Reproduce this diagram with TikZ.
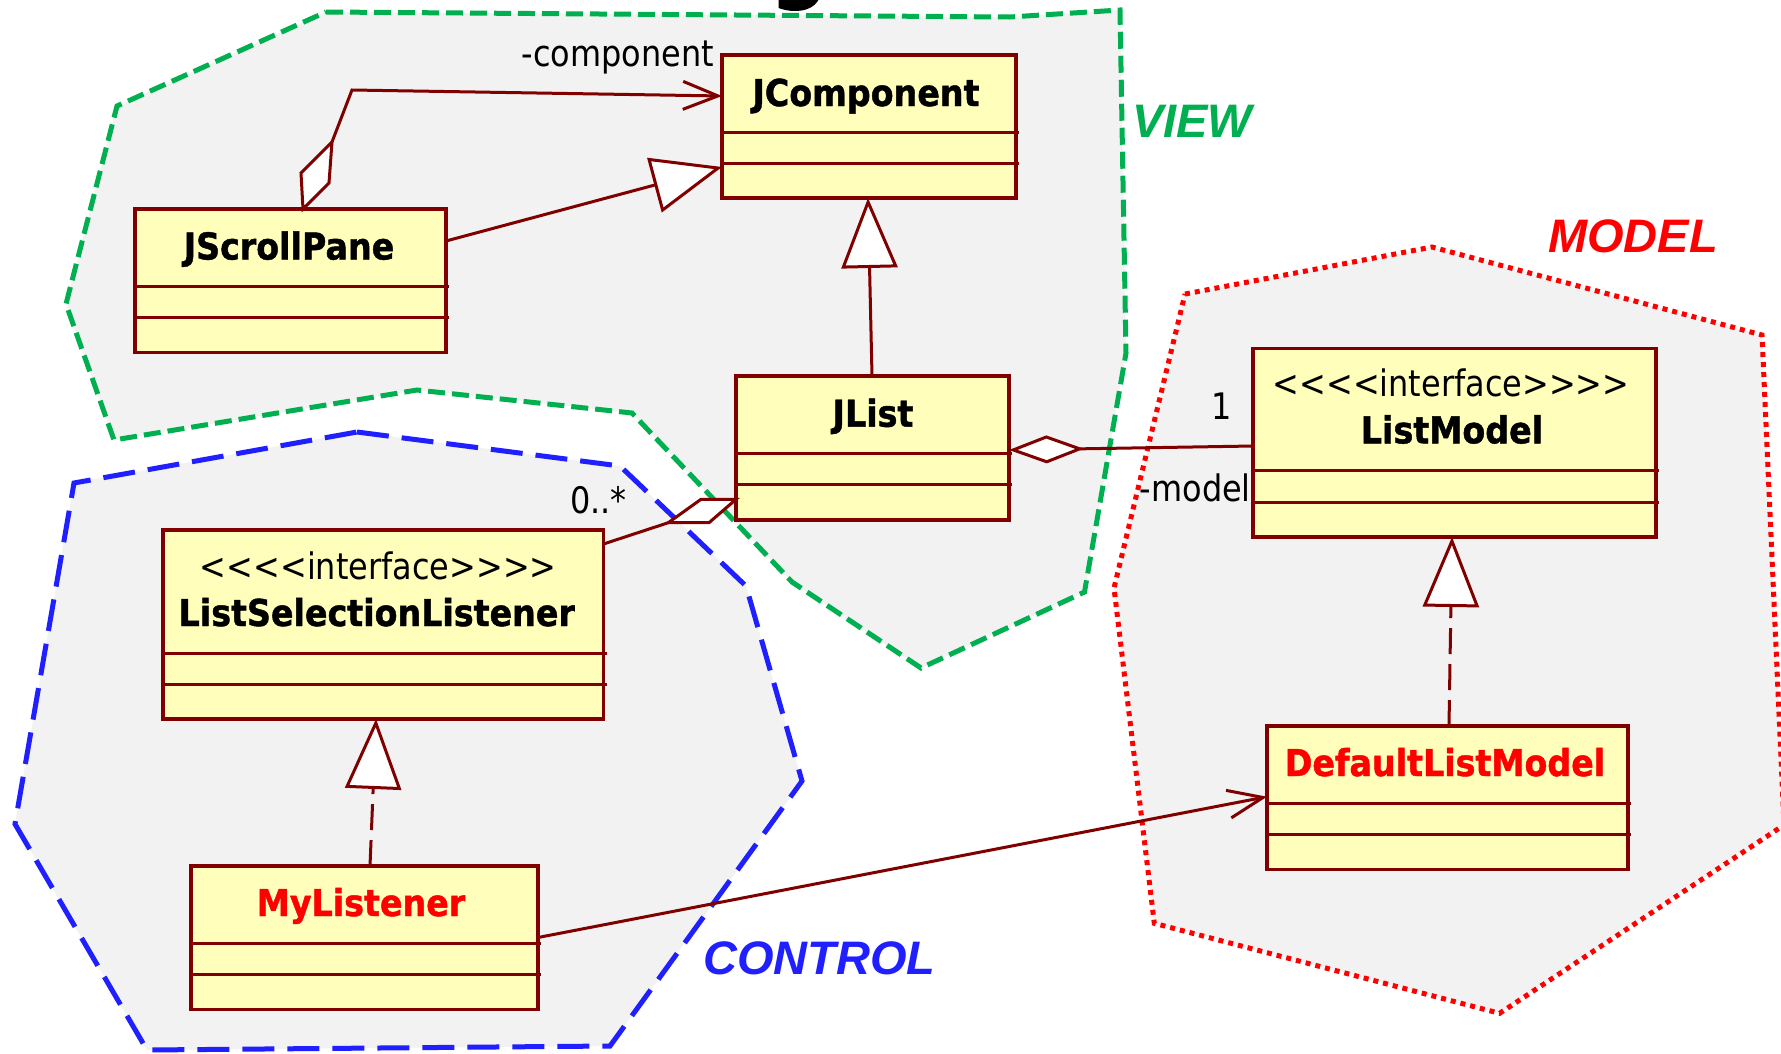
\documentclass[tikz,border=0pt]{standalone}
\usepackage{fontspec}
\usetikzlibrary{arrows.meta,calc}

\newfontfamily\clsfont{DejaVu Sans}[FakeStretch=0.9, BoldFeatures={FakeBold=1.2}]
\newfontfamily\txtfont{DejaVu Sans}[FakeStretch=0.875]
\newfontfamily\pkgfont{Liberation Sans}

\definecolor{umlborder}{HTML}{800000}
\definecolor{umlfill}{HTML}{FFFFBB}
\definecolor{pkgfill}{HTML}{F2F2F2}
\definecolor{viewgreen}{HTML}{00B050}
\definecolor{ctrlblue}{HTML}{1F1FFF}
\definecolor{modelred}{HTML}{FF0000}

\tikzset{
  classbox/.style={draw=umlborder, fill=umlfill, line width=3.5pt, outer sep=0pt, inner sep=0pt},
  compline/.style={draw=umlborder, line width=3pt},
  clsname/.style={font=\clsfont\bfseries\fontsize{37}{40}\selectfont, inner sep=0pt, anchor=base},
  stereo/.style={font=\txtfont\fontsize{36.5}{40}\selectfont, inner sep=0pt, anchor=base},
  rolelabel/.style={font=\txtfont\fontsize{36.5}{40}\selectfont, inner sep=0pt},
  umlconn/.style={draw=umlborder, line width=3pt},
  umlreal/.style={umlconn, dash pattern=on 26pt off 10pt},
  genhead/.style={arrows={-Triangle[length=70pt,width=56pt,fill=white]}},
  navig/.style={arrows={-Straight Barb[length=35pt,width=28pt]}},
  aggr/.style={arrows={Diamond[length=75pt,width=28pt,fill=white]-}},
  pkgtitle/.style={font=\pkgfont\bfseries\itshape\fontsize{47}{50}\selectfont, inner sep=0pt, anchor=base west},
  pkgarea/.style={fill=pkgfill},
  viewedge/.style={draw=viewgreen, line width=5pt, dash pattern=on 17pt off 7pt},
  ctrledge/.style={draw=ctrlblue, line width=5pt, dash pattern=on 32pt off 13pt},
  modeledge/.style={draw=modelred, line width=5pt, dash pattern=on 5pt off 5pt},
}

% class box: name, x, y, width, name-compartment height, total height
\newcommand\umlclass[6]{%
  \node[classbox, minimum width=#4, minimum height=#6, anchor=north west] (#1) at (#2,#3) {};
  \draw[compline] ($(#1.north west)+(0,#5)$) -- ++(#4+3,0);
  \draw[compline] ($(#1.north west)+(0,#5+31.5)$) -- ++(#4+3,0);
}

\begin{document}
\begin{tikzpicture}[x=1pt,y=-1pt]
\useasboundingbox (0,0) rectangle (1781,1053);
\clip (0,0) rectangle (1781,1053);
\fill[white] (0,0) rectangle (1781,1053);

% title glyph running off the top edge
\node[font=\clsfont\bfseries\fontsize{90}{90}\selectfont, inner sep=0pt, anchor=base] (title) at (799,-9) {g};

% package areas
\path[pkgarea] (326,12) -- (1010,17) -- (1120,10) -- (1126,353) -- (1084.5,592) -- (921,668)
  -- (792,582) -- (632,413) -- (417,390) -- (114,440) -- (66,304) -- (117,106) -- cycle;
\path[pkgarea] (357,432) -- (620,466) -- (746,586) -- (802,781) -- (610,1046) -- (147,1050)
  -- (15,824) -- (74,483) -- cycle;
\path[pkgarea] (1185,294) -- (1432,247) -- (1762,335) -- (1784,825) -- (1499.6,1013.3)
  -- (1154.3,923.3) -- (1114,588) -- cycle;

\draw[viewedge] (326,12) -- (1010,17) -- (1120,10) -- (1126,353) -- (1084.5,592) -- (921,668)
  -- (792,582) -- (632,413) -- (417,390) -- (114,440) -- (66,304) -- (117,106) -- cycle;
\draw[ctrledge] (357,432) -- (620,466) -- (746,586) -- (802,781) -- (610,1046) -- (147,1050)
  -- (15,824) -- (74,483) -- cycle;
\draw[modeledge] (1185,294) -- (1432,247) -- (1762,335) -- (1784,825) -- (1499.6,1013.3)
  -- (1154.3,923.3) -- (1114,588) -- cycle;

\node[pkgtitle, text=viewgreen] (viewlbl) at (1132,137) {VIEW};
\node[pkgtitle, text=modelred] (modellbl) at (1548,252) {MODEL};
\node[pkgtitle, text=ctrlblue] (ctrllbl) at (703,974.5) {CONTROL};

% classes
\umlclass{jcomp}{722}{55}{294}{77}{143}
\node[clsname] (jcomp-n) at ($(jcomp.north)+(-3,51)$) {JComponent};

\umlclass{jscroll}{135}{209}{311}{77}{143.5}
\node[clsname] (jscroll-n) at ($(jscroll.north)+(-1.5,50.5)$) {JScrollPane};

\umlclass{jlist}{736}{376}{273}{77}{144}
\node[clsname] (jlist-n) at ($(jlist.north)+(0.5,50.7)$) {JList};

\umlclass{listmodel}{1253}{348.5}{403}{122.3}{188.5}
\node[stereo] (listmodel-s) at ($(listmodel.north)+(-3.5,48.2)$) {<<<<interface>>>>};
\node[clsname] (listmodel-n) at ($(listmodel.north)+(-2.5,94.8)$) {ListModel};

\umlclass{lsl}{163}{530}{440.5}{123}{189}
\node[stereo] (lsl-s) at ($(lsl.north)+(-5,49.5)$) {<<<<interface>>>>};
\node[clsname] (lsl-n) at ($(lsl.north)+(-6.5,96)$) {ListSelectionListener};

\umlclass{mylist}{191}{866}{347}{77}{143.5}
\node[clsname, text=modelred] (mylist-n) at ($(mylist.north)+(-3.5,50)$) {MyListener};

\umlclass{dlm}{1267}{726}{361}{77.3}{143.5}
\node[clsname, text=modelred] (dlm-n) at ($(dlm.north)+(-2.5,50)$) {DefaultListModel};

% JScrollPane <>--> JComponent
\coordinate (aggA) at ($(jscroll.north west)+(168,0)$);
\filldraw[umlconn, fill=white] (aggA) -- ++(-2,-36) -- ++(31,-31) -- ++(-3,41) -- cycle;
\coordinate (aggAtop) at ($(aggA)+(29,-67)$);
\coordinate (bendA) at (352,90);
\draw[umlconn, navig] (aggAtop) -- (bendA) -- ($(jcomp.north west)+(0,41)$);
\node[rolelabel, anchor=base east] (role-comp) at (714,66.7) {-component};

% JScrollPane --|> JComponent
\draw[umlconn, genhead] ($(jscroll.north east)+(0,32)$) -- ($(jcomp.north west)+(0,112)$);

% JList --|> JComponent
\draw[umlconn, genhead] ($(jlist.north west)+(136,0)$) -- ($(jcomp.south west)+(146,0)$);

% JList <>-- ListModel
\draw[umlconn, aggr] ($(jlist.north east)+(0,74)$) -- ($(listmodel.north west)+(0,97.5)$);
\node[rolelabel, anchor=base] (mult-one) at (1222,419) {1};
\node[rolelabel, anchor=base east] (role-model) at (1251,501.7) {-model};

% ListSelectionListener --<> JList
\coordinate (aggB) at ($(jlist.north west)+(0,123.3)$);
\filldraw[umlconn, fill=white] (aggB) -- ++(-35,0) -- ++(-32.7,23.4) -- ++(40.7,0) -- cycle;
\coordinate (aggBtail) at ($(aggB)+(-67.7,23.4)$);
\draw[umlconn] ($(lsl.north east)+(0,14)$) -- (aggBtail);
\node[rolelabel, anchor=base east] (mult-many) at (627,513.3) {0..*};

% MyListener ..|> ListSelectionListener
\draw[umlreal, genhead] ($(mylist.north west)+(179,0)$) -- ($(lsl.south west)+(213,0)$);

% DefaultListModel ..|> ListModel
\draw[umlreal, genhead] ($(dlm.north west)+(182,0)$) -- ($(listmodel.south west)+(199,0)$);

% MyListener --> DefaultListModel
\draw[umlconn, navig] ($(mylist.north east)+(0,71.5)$) -- ($(dlm.north west)+(0,70.7)$);
\end{tikzpicture}
\end{document}
